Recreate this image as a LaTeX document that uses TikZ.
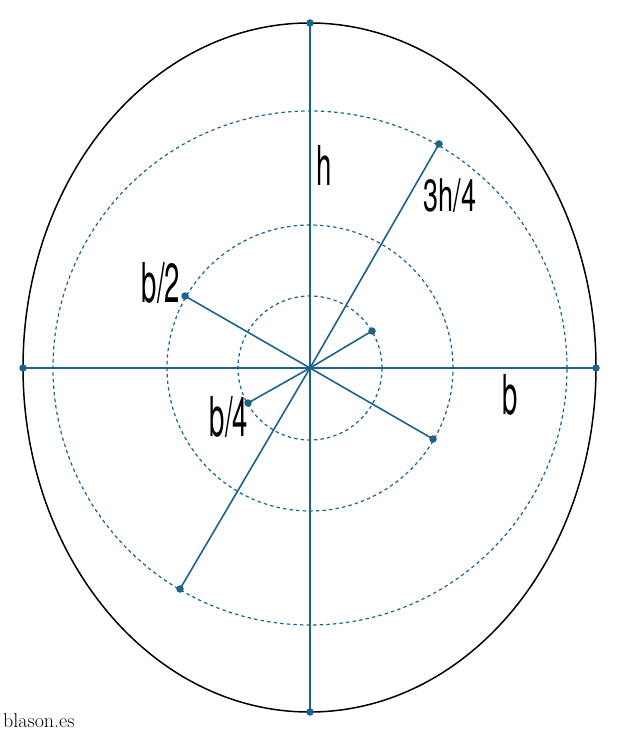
\documentclass[tikz,border=0pt]{standalone}
\usepackage{fontspec}
\setsansfont{TeX Gyre Heros}
\usetikzlibrary{calc,shapes.geometric}
\definecolor{bblue}{RGB}{27,98,140}
\tikzset{
  radius line/.style={draw=bblue, line width=1.6pt},
  dotted ring/.style={draw=bblue, line width=1.2pt, dash pattern=on 3.4pt off 3.2pt},
  outline/.style={draw=black, line width=1.5pt},
  dotpt/.style={circle, fill=bblue, inner sep=0pt, minimum size=7.5pt},
  hand/.style={font=\sffamily\fontsize{55}{55}\selectfont, inner sep=0pt, text=black},
  handsmall/.style={font=\sffamily\fontsize{45}{45}\selectfont, inner sep=0pt, text=black},
}
\newcommand{\hw}[1]{\scalebox{0.5}[1]{#1}}
\newcommand{\hws}[1]{\scalebox{0.6}[1]{#1}}
\begin{document}
\begin{tikzpicture}[x=1pt, y=-1pt]
\useasboundingbox (0,0) rectangle (620,735);
% outer shield outline
\node[outline, ellipse, minimum width=573pt, minimum height=689pt, inner sep=0pt] (shield) at (309.5,367.5) {};
% dotted rings
\node[dotted ring, circle, minimum size=514pt, inner sep=0pt] (ringA) at (310,368) {};
\node[dotted ring, circle, minimum size=286pt, inner sep=0pt] (ringB) at (310,368) {};
\node[dotted ring, circle, minimum size=144pt, inner sep=0pt] (ringC) at (310,368) {};
% centre
\coordinate (O) at (310,368);
% end points
\node[dotpt] (top) at (310,23) {};
\node[dotpt] (bot) at (310,712) {};
\node[dotpt] (lft) at (23,368) {};
\node[dotpt] (rgt) at (596,368) {};
\node[dotpt] (p3a) at (439,144) {};
\node[dotpt] (p3b) at (180,589) {};
\node[dotpt] (p2a) at (185,296) {};
\node[dotpt] (p2b) at (433,439) {};
\node[dotpt] (p1a) at (372,331) {};
\node[dotpt] (p1b) at (248,403) {};
% lines
\draw[radius line] (top.center) -- (O) -- (bot.center);
\draw[radius line] (lft.center) -- (O) -- (rgt.center);
\draw[radius line] (p3a.center) -- (O) -- (p3b.center);
\draw[radius line] (p2a.center) -- (O) -- (p2b.center);
\draw[radius line] (p1a.center) -- (O) -- (p1b.center);
% labels
\node[hand] (lh) at (324,165) {\hw{h}};
\node[handsmall] (l34) at (450,196) {\hws{3h/4}};
\node[hand] (l2) at (161,283) {\hw{b/2}};
\node[hand] (l4) at (229,417) {\hw{b/4}};
\node[hand] (lb) at (510,395) {\hw{b}};
\node[font=\rmfamily\fontsize{20}{20}\selectfont, inner sep=0pt, anchor=west] (wm) at (3,721) {blason.es};
\end{tikzpicture}
\end{document}
